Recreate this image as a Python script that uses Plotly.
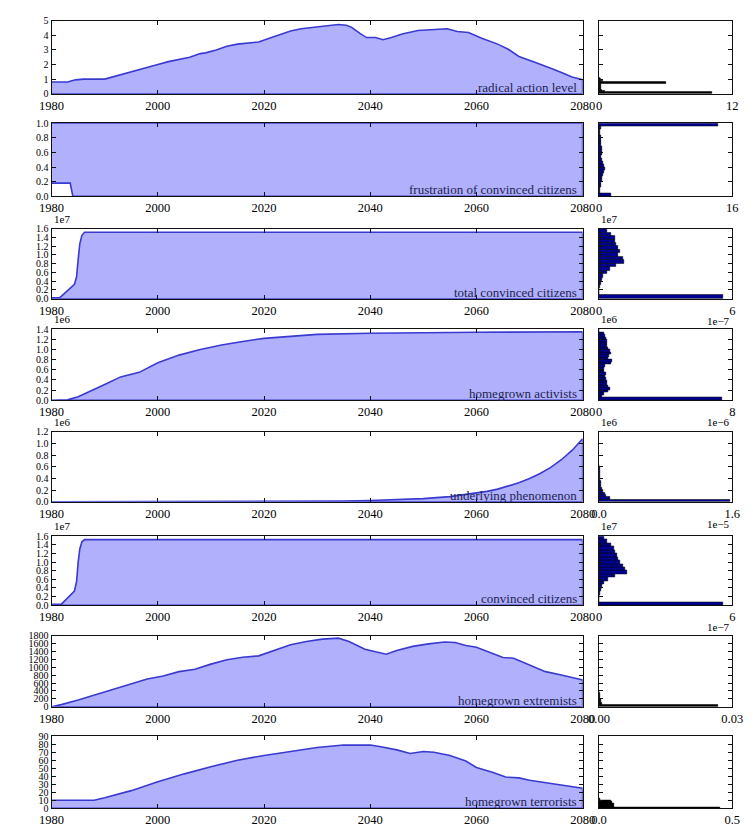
import plotly.graph_objects as go

FONT = "Liberation Serif"
W, H = 753, 830

FILL = "#b0b0fc"
LINE = "#3a3ad0"
LABEL_COLOR = "#1f1f50"
NAVY = "#000090"

# ---------------- time series ----------------
ral_years = [1980, 1983, 1984.5, 1986, 1990, 1991, 1993, 1995, 1996, 1998,
             2000, 2002, 2004, 2006, 2008, 2009, 2011, 2013, 2015, 2017,
             2019, 2021, 2023, 2025, 2027, 2030, 2032, 2034, 2035.5, 2036.5,
             2038, 2039.3, 2041, 2042.4, 2044, 2046, 2049, 2052, 2054.5, 2056.4,
             2058.5, 2061, 2064, 2066, 2068, 2071, 2073, 2074.5, 2076, 2078,
             2080]
ral_vals = [0.8, 0.8, 0.95, 1.0, 1.0, 1.1, 1.3, 1.5, 1.55, 1.75,
            2.0, 2.2, 2.35, 2.5, 2.75, 2.8, 3.0, 3.25, 3.4, 3.5,
            3.55, 3.8, 4.05, 4.3, 4.45, 4.6, 4.7, 4.75, 4.7, 4.55,
            4.15, 3.85, 3.85, 3.7, 3.85, 4.1, 4.33, 4.4, 4.45, 4.26,
            4.2, 3.8, 3.4, 3.05, 2.55, 2.15, 1.9, 1.68, 1.45, 1.15,
            0.96]

fr_years = [1980, 1983.5, 1984, 2080]
fr_vals = [0.18, 0.18, 0.0, 0.0]

tc_years = [1980, 1981.5, 1984.3, 1984.7, 1985.0, 1985.3, 1985.7, 1986.2, 1987, 2080]
tc_vals = [0.02, 0.02, 0.33, 0.5, 0.9, 1.25, 1.45, 1.52, 1.52, 1.52]          # x 1e7

ha_years = [1980, 1982, 1983, 1985, 1988, 1990, 1993, 1996.5, 2000, 2004,
            2008, 2012, 2016, 2020, 2025, 2030, 2040, 2050, 2060, 2080]
ha_vals = [0.0, 0.0, 0.01, 0.07, 0.21, 0.31, 0.46, 0.55, 0.74, 0.89,
           1.0, 1.09, 1.16, 1.22, 1.26, 1.30, 1.32, 1.335, 1.34, 1.35]       # x 1e6

up_years = [1980, 2000, 2010, 2020, 2025, 2030, 2035, 2040, 2045, 2050,
            2055, 2060, 2062, 2064, 2066, 2068, 2070, 2072, 2074, 2076,
            2078, 2080]
up_vals = [0.0, 0.0004, 0.001, 0.0025, 0.004, 0.007, 0.012, 0.02, 0.032, 0.053,
           0.088, 0.145, 0.177, 0.216, 0.265, 0.325, 0.40, 0.485, 0.59, 0.72,
           0.88, 1.08]                                                     # x 1e6

cc_years = [1980, 1981.8, 1984.3, 1984.7, 1985.0, 1985.3, 1985.7, 1986.2, 1987, 2080]
cc_vals = [0.02, 0.02, 0.33, 0.55, 1.0, 1.3, 1.47, 1.52, 1.52, 1.52]         # x 1e7

he_years = [1980, 1982, 1985, 1990, 1995, 1998, 2001, 2004, 2007, 2010,
            2013, 2016, 2019, 2022, 2025, 2028, 2031, 2034, 2036, 2039,
            2041, 2043, 2045, 2048, 2051, 2054, 2056, 2058, 2060, 2062,
            2065, 2067, 2070, 2073, 2076, 2080]
he_vals = [0, 60, 170, 380, 595, 705, 780, 890, 950, 1080,
           1190, 1255, 1290, 1425, 1570, 1655, 1715, 1740, 1655, 1460,
           1400, 1330, 1425, 1530, 1595, 1640, 1630, 1555, 1510, 1400,
           1250, 1230, 1060, 890, 805, 680]

ht_years = [1980, 1988, 1990, 1995, 2000, 2005, 2010, 2015, 2020, 2025,
            2030, 2035, 2040, 2042, 2045, 2047.5, 2050, 2052, 2055, 2058,
            2060, 2063, 2065.5, 2068, 2070, 2075, 2080]
ht_vals = [10, 10, 13, 22, 33, 43, 52, 60, 66, 71,
           76, 79, 79, 77, 73, 68.5, 71, 70, 66, 59,
           51, 45, 39, 38, 35, 30, 25]

# ---------------- histograms (densities per bin, bins start at 0) ----------------
ral_hist_w = 0.1
ral_hist = [10.2, 0.5, 0.3, 0.2, 0.15, 0.15, 0.2, 6.0, 0.4, 0.2, 0.05]

fr_hist_w = 0.04
fr_hist = [1.5, 0.1, 0.15, 0.2, 0.25, 0.3, 0.35, 0.45, 0.6, 0.7,
           0.65, 0.45, 0.3, 0.25, 0.3, 0.35, 0.3, 0.25, 0.2, 0.25,
           0.2, 0.15, 0.15, 0.2, 14.3]

tc_hist_w = 0.08                                                           # x 1e7
tc_hist = [5.6, 0.0, 0.02, 0.04, 0.08, 0.12, 0.2, 0.35, 0.5, 0.75,
           1.12, 1.1, 0.85, 0.95, 0.85, 0.78, 0.74, 0.7, 0.53, 0.38]        # x 1e-7

ha_hist_w = 0.05                                                           # x 1e6
ha_hist = [7.4, 0.2, 0.28, 0.56, 0.65, 0.56, 0.5, 0.48, 0.45, 0.37,
           0.42, 0.3, 0.28, 0.37, 0.7, 0.79, 0.56, 0.6, 0.7, 0.65,
           0.55, 0.5, 0.5, 0.5, 0.4, 0.35, 0.3, 0.0]                        # x 1e-6

up_hist_w = 0.04                                                           # x 1e6
up_hist = [1.57, 0.13, 0.08, 0.07, 0.05, 0.03, 0.025, 0.02, 0.02, 0.015,
           0.015, 0.01, 0.01, 0.008, 0.006, 0.005]                          # x 1e-5

cc_hist_w = 0.08                                                           # x 1e7
cc_hist = [5.6, 0.0, 0.02, 0.05, 0.08, 0.12, 0.21, 0.42, 0.74, 1.27,
           1.17, 1.06, 0.95, 0.85, 0.8, 0.74, 0.68, 0.53, 0.38, 0.21]       # x 1e-7

he_hist_w = 50
he_hist = [0.0268, 0.0006, 0.0005, 0.0004, 0.0003, 0.0002, 0.00015, 0.0001]

ht_hist_w = 1.5
ht_hist = [0.455, 0.058, 0.058, 0.055, 0.05, 0.048, 0.045, 0.005]

YEAR_TICKS = [1980, 2000, 2020, 2040, 2060, 2080]

panels = [
    dict(name="radical action level", years=ral_years, vals=ral_vals, unit=1, ymax=5, ystep=1, ydec=0,
         yoff="", hw=ral_hist_w, hist=ral_hist, hunit=1, hxmax=12, hxlab=("0", "12"), hxoff="",
         hcolor="black", fill_to="zero"),
    dict(name="frustration of convinced citizens", years=fr_years, vals=fr_vals, unit=1, ymax=1.0, ystep=0.2, ydec=1,
         yoff="", hw=fr_hist_w, hist=fr_hist, hunit=1, hxmax=16, hxlab=("0", "16"), hxoff="",
         hcolor=NAVY, fill_to="top"),
    dict(name="total convinced citizens", years=tc_years, vals=tc_vals, unit=1e7, ymax=1.6, ystep=0.2, ydec=1,
         yoff="1e7", hw=tc_hist_w, hist=tc_hist, hunit=1e-7, hxmax=6, hxlab=("0", "6"), hxoff="1e\u22127",
         hcolor=NAVY, fill_to="zero"),
    dict(name="homegrown activists", years=ha_years, vals=ha_vals, unit=1e6, ymax=1.4, ystep=0.2, ydec=1,
         yoff="1e6", hw=ha_hist_w, hist=ha_hist, hunit=1e-6, hxmax=8, hxlab=("0", "8"), hxoff="1e\u22126",
         hcolor=NAVY, fill_to="zero"),
    dict(name="underlying phenomenon", years=up_years, vals=up_vals, unit=1e6, ymax=1.2, ystep=0.2, ydec=1,
         yoff="1e6", hw=up_hist_w, hist=up_hist, hunit=1e-5, hxmax=1.6, hxlab=("0.0", "1.6"), hxoff="1e\u22125",
         hcolor=NAVY, fill_to="zero"),
    dict(name="convinced citizens", years=cc_years, vals=cc_vals, unit=1e7, ymax=1.6, ystep=0.2, ydec=1,
         yoff="1e7", hw=cc_hist_w, hist=cc_hist, hunit=1e-7, hxmax=6, hxlab=("0", "6"), hxoff="1e\u22127",
         hcolor=NAVY, fill_to="zero"),
    dict(name="homegrown extremists", years=he_years, vals=he_vals, unit=1, ymax=1800, ystep=200, ydec=0,
         yoff="", hw=he_hist_w, hist=he_hist, hunit=1, hxmax=0.03, hxlab=("0.00", "0.03"), hxoff="",
         hcolor="black", fill_to="zero"),
    dict(name="homegrown terrorists", years=ht_years, vals=ht_vals, unit=1, ymax=90, ystep=10, ydec=0,
         yoff="", hw=ht_hist_w, hist=ht_hist, hunit=1, hxmax=0.5, hxlab=("0.0", "0.5"), hxoff="",
         hcolor="black", fill_to="zero"),
]

# panel geometry in pixels
LEFT = (40, 590)
RIGHT = (607, 745)
TOPS = [15, 119, 226, 328, 432, 538, 639, 741]
BOTTOMS = [89, 193, 297, 400, 503, 608, 711, 814]


def ref(kind, n):
    return kind if n == 1 else f"{kind}{n}"


def axname(kind, n):
    return f"{kind}axis" if n == 1 else f"{kind}axis{n}"


common = dict(showline=True, linecolor="#111111", linewidth=1, mirror="allticks",
              ticks="inside", ticklen=4, tickcolor="#111111", tickwidth=1,
              showgrid=False, zeroline=False, fixedrange=True)
xfont = dict(family=FONT, size=12.5, color="black")
yfont = dict(family=FONT, size=10, color="black")

fig = go.Figure()
layout = {}
annotations = []

for i, p in enumerate(panels):
    lx, rx = 2 * i + 1, 2 * i + 2
    ydom = [1 - BOTTOMS[i] / H, 1 - TOPS[i] / H]
    ytop = p["ymax"] * p["unit"]

    # filled time series
    base = ytop if p["fill_to"] == "top" else 0
    xs = list(p["years"]) + [p["years"][-1], p["years"][0]]
    ys = [v * p["unit"] for v in p["vals"]] + [base, base]
    fig.add_trace(go.Scatter(x=xs, y=ys, mode="lines", fill="toself", fillcolor=FILL,
                             line=dict(color=LINE, width=1.6),
                             xaxis=ref("x", lx), yaxis=ref("y", lx), hoverinfo="skip"))

    # horizontal histogram
    w = p["hw"] * p["unit"]
    centers = [(k + 0.5) * w for k in range(len(p["hist"]))]
    fig.add_trace(go.Bar(y=centers, x=[h * p["hunit"] for h in p["hist"]], orientation="h",
                         width=w, marker=dict(color=p["hcolor"], line=dict(color="black", width=0.5)),
                         xaxis=ref("x", rx), yaxis=ref("y", rx), hoverinfo="skip"))

    nt = int(round(p["ymax"] / p["ystep"]))
    yvals = [k * p["ystep"] * p["unit"] for k in range(nt + 1)]
    ytext = [f"{k * p['ystep']:.{p['ydec']}f}" for k in range(nt + 1)]

    layout[axname("x", lx)] = dict(common, domain=[LEFT[0] / W, LEFT[1] / W], anchor=ref("y", lx),
                                   range=[1980, 2080], tickvals=YEAR_TICKS,
                                   ticktext=[str(t) for t in YEAR_TICKS], tickfont=xfont)
    layout[axname("y", lx)] = dict(common, domain=ydom, anchor=ref("x", lx), range=[0, ytop],
                                   tickvals=yvals, ticktext=ytext, tickfont=yfont)
    hx = p["hxmax"] * p["hunit"]
    layout[axname("x", rx)] = dict(common, domain=[RIGHT[0] / W, RIGHT[1] / W], anchor=ref("y", rx),
                                   range=[0, hx], tickvals=[0, hx], ticktext=list(p["hxlab"]),
                                   tickfont=xfont)
    layout[axname("y", rx)] = dict(common, domain=ydom, anchor=ref("x", rx), range=[0, ytop],
                                   tickvals=yvals, showticklabels=False)

    annotations.append(dict(text=p["name"], xref=f"{ref('x', lx)} domain", yref=f"{ref('y', lx)} domain",
                            x=0.993, y=0, xanchor="right", yanchor="bottom", yshift=-3,
                            showarrow=False, font=dict(family=FONT, size=13, color=LABEL_COLOR)))
    if p["yoff"]:
        for xpx in (LEFT[0], RIGHT[0]):
            annotations.append(dict(text=p["yoff"], xref="paper", yref="paper",
                                    x=xpx / W, y=1 - (TOPS[i] - 2) / H, xanchor="left", yanchor="bottom",
                                    showarrow=False, font=dict(family=FONT, size=11, color="black")))
    if p["hxoff"]:
        annotations.append(dict(text=p["hxoff"], xref="paper", yref="paper",
                                x=RIGHT[1] / W, y=1 - (BOTTOMS[i] + 14) / H, xanchor="right", yanchor="top",
                                showarrow=False, font=dict(family=FONT, size=11, color="black")))

fig.update_layout(width=W, height=H, margin=dict(l=0, r=0, t=0, b=0),
                  paper_bgcolor="white", plot_bgcolor="white", showlegend=False,
                  bargap=0, annotations=annotations, **layout)

fig.write_html("out.html")
